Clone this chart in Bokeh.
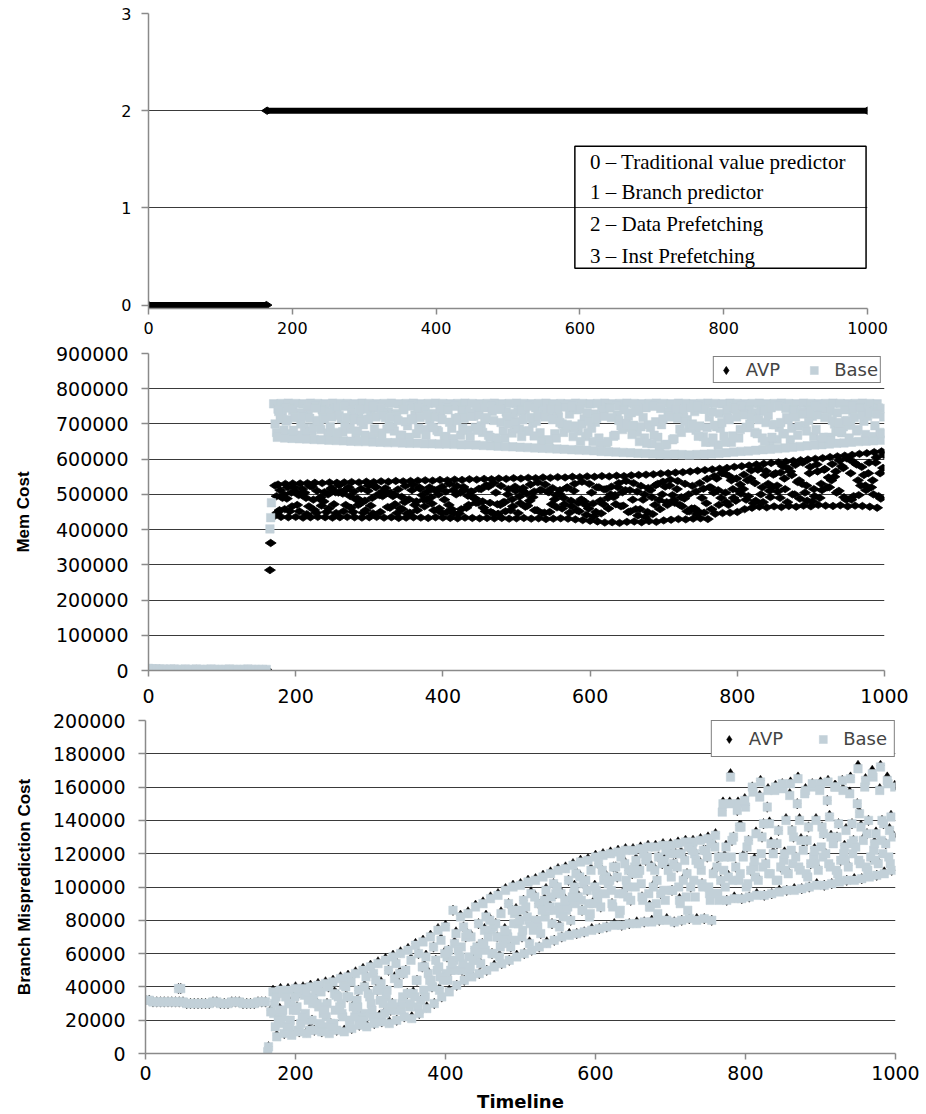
from math import pi

from bokeh.embed import file_html
from bokeh.models import (BoxAnnotation, FixedTicker, Label, Legend, LegendItem,
                          NumeralTickFormatter, Range1d)
from bokeh.plotting import figure
from bokeh.resources import INLINE

# ---------------------------------------------------------------- data
timeline_ticks = [0, 200, 400, 600, 800, 1000]

# Active predictor mode over the timeline
phase_start = [0, 165]
phase_end = [164, 1000]
phase_mode = [0, 2]
mode_ticks = [0, 1, 2, 3]
mode_names = ["0 – Traditional value predictor", "1 – Branch predictor",
              "2 – Data Prefetching", "3 – Inst Prefetching"]

# Warm-up samples (t = 0, 5, ..., 160); all cost values below are in thousands
pre_t = list(range(0, 165, 5))

# ---- Mem Cost ----
mem_ticks = [0, 100000, 200000, 300000, 400000, 500000, 600000, 700000, 800000, 900000]
avp_mem_pre = [5, 4, 4, 4, 3, 3, 3, 4, 3, 3, 3, 3, 3, 4, 3, 3, 3, 3, 3, 3,
               3, 3, 3, 3, 3, 3, 3, 3, 3, 3, 3, 3, 3]
base_mem_pre = [6, 5, 5, 4, 4, 3, 4, 4, 3, 3, 4, 3, 3, 4, 3, 3, 3, 4, 3, 3,
                3, 3, 4, 3, 3, 3, 3, 4, 3, 3, 3, 3, 3]
avp_mem_switch_t = [165, 166]
avp_mem_switch = [285, 362]
base_mem_switch_t = [165, 166, 167]
base_mem_switch = [402, 434, 476]

# After the switch the samples interleave; each list holds every tenth
# sample starting at t = 170 + offset.
avp_mem_low = [437, 436, 435, 436, 434, 435, 436, 435, 434, 435,
               436, 435, 434, 435, 436, 434, 435, 433, 434, 435,
               434, 433, 435, 434, 433, 432, 434, 433, 432, 433,
               432, 433, 431, 432, 433, 431, 432, 430, 431, 432,
               431, 429, 427, 425, 423, 420, 421, 419, 422, 423,
               421, 424, 422, 426, 428, 430, 429, 431, 432, 430,
               445, 447, 448, 450, 458, 462, 465, 463, 466, 464,
               467, 465, 468, 466, 470, 468, 467, 469, 466, 468,
               467, 465, 462]
avp_mem_a = [525, 490, 452, 470, 505, 522, 488, 450, 472, 508,
             520, 486, 448, 468, 500, 518, 495, 460, 445, 470,
             498, 520, 512, 485, 458, 446, 462, 490, 515, 522,
             505, 478, 455, 447, 465, 492, 512, 508, 486, 460,
             448, 455, 480, 505, 520, 515, 492, 466, 450, 458,
             485, 512, 530, 522, 498, 470, 452, 460, 490, 520,
             545, 560, 540, 510, 485, 475, 500, 530, 560, 580,
             565, 535, 505, 480, 490, 520, 550, 580, 600, 585,
             555, 520, 495]
avp_mem_mid = [495, 500, 505, 498, 490, 485, 492, 500, 506, 502,
               495, 488, 482, 490, 498, 505, 500, 493, 486, 480,
               485, 492, 500, 508, 512, 505, 496, 488, 480, 476,
               472, 478, 486, 494, 502, 508, 512, 506, 498, 490,
               482, 476, 470, 474, 482, 490, 498, 506, 512, 508,
               500, 492, 484, 478, 484, 492, 500, 508, 516, 520,
               512, 505, 515, 528, 540, 532, 520, 510, 525, 545,
               555, 540, 525, 515, 530, 548, 565, 575, 560, 540,
               525, 540, 560]
avp_mem_lo2 = [448, 458, 466, 452, 444, 456, 468, 460, 447, 452,
               462, 470, 455, 446, 450, 464, 472, 458, 448, 455,
               466, 474, 460, 449, 446, 458, 470, 476, 462, 450,
               445, 452, 466, 475, 468, 455, 446, 450, 463, 472,
               466, 452, 442, 438, 446, 460, 472, 468, 452, 440,
               436, 444, 458, 470, 476, 466, 452, 444, 448, 458,
               470, 478, 490, 502, 495, 482, 478, 492, 508, 515,
               500, 488, 482, 495, 512, 520, 505, 492, 485, 498,
               512, 500, 488]
avp_mem_high = [528, 530, 531, 531, 532, 533, 532, 534, 533, 534,
                535, 534, 536, 535, 537, 536, 538, 537, 538, 539,
                540, 539, 541, 540, 542, 541, 543, 542, 544, 543,
                545, 544, 546, 545, 547, 546, 548, 547, 549, 548,
                550, 549, 551, 550, 552, 551, 553, 552, 554, 555,
                556, 557, 559, 560, 562, 563, 565, 567, 569, 571,
                573, 575, 578, 580, 582, 585, 587, 589, 591, 593,
                595, 597, 599, 601, 603, 606, 608, 610, 612, 615,
                617, 620, 622]
avp_mem_b = [455, 488, 520, 500, 466, 448, 480, 515, 505, 470,
             450, 475, 510, 522, 495, 462, 447, 478, 512, 520,
             485, 455, 448, 470, 500, 521, 508, 476, 452, 447,
             470, 500, 522, 510, 482, 455, 448, 472, 502, 518,
             510, 486, 460, 450, 472, 500, 520, 512, 485, 458,
             450, 470, 500, 525, 515, 488, 460, 450, 475, 505,
             490, 470, 482, 515, 545, 570, 555, 520, 490, 478,
             500, 530, 560, 585, 570, 540, 510, 485, 495, 525,
             560, 590, 575]
avp_mem_hi2 = [512, 520, 508, 515, 524, 510, 506, 518, 526, 514,
               508, 516, 525, 520, 510, 505, 514, 524, 528, 516,
               508, 512, 522, 530, 524, 514, 508, 516, 526, 532,
               524, 515, 510, 518, 528, 534, 528, 518, 512, 520,
               530, 536, 530, 520, 514, 522, 532, 538, 532, 524,
               518, 526, 536, 542, 538, 530, 524, 532, 544, 552,
               560, 552, 545, 556, 568, 575, 566, 556, 562, 574,
               584, 590, 578, 565, 572, 586, 596, 602, 590, 578,
               590, 605, 612]

base_mem_top = [757, 758, 759, 758, 757, 759, 758, 757, 759, 758,
                758, 757, 759, 758, 757, 758, 759, 757, 758, 759,
                757, 758, 759, 758, 757, 758, 759, 758, 757, 758,
                759, 757, 758, 759, 758, 757, 758, 759, 757, 758,
                757, 759, 758, 757, 758, 759, 757, 758, 759, 758,
                757, 758, 759, 758, 757, 759, 758, 757, 758, 759,
                758, 757, 759, 758, 757, 758, 759, 757, 758, 759,
                758, 757, 759, 758, 757, 758, 759, 758, 757, 758,
                759, 758, 757]
base_mem_c1 = [700, 725, 745, 720, 690, 675, 700, 730, 742, 715,
               685, 672, 698, 728, 744, 718, 690, 668, 695, 725,
               740, 712, 682, 664, 688, 718, 738, 722, 695, 668,
               660, 680, 708, 735, 728, 702, 675, 655, 672, 700,
               728, 740, 715, 688, 660, 645, 665, 695, 722, 738,
               718, 690, 662, 640, 655, 685, 712, 735, 742, 720,
               692, 665, 648, 660, 690, 718, 740, 725, 698, 672,
               655, 668, 695, 722, 742, 728, 700, 675, 660, 680,
               708, 735, 745]
base_mem_lo2 = [676, 682, 672, 668, 680, 690, 684, 674, 670, 678,
                688, 680, 668, 664, 674, 686, 680, 668, 662, 672,
                684, 690, 678, 664, 658, 668, 682, 690, 676, 662,
                654, 660, 674, 686, 680, 666, 652, 648, 660, 676,
                688, 680, 664, 650, 642, 650, 668, 684, 690, 676,
                660, 644, 636, 642, 658, 676, 688, 682, 664, 648,
                640, 648, 666, 684, 690, 676, 660, 650, 656, 672,
                688, 694, 680, 664, 656, 662, 678, 692, 696, 684,
                670, 664, 676]
base_mem_low = [662, 660, 659, 658, 657, 656, 655, 654, 653, 652,
                651, 650, 650, 649, 648, 647, 647, 646, 645, 645,
                644, 644, 643, 643, 642, 641, 641, 640, 639, 638,
                637, 636, 635, 634, 633, 632, 631, 630, 629, 628,
                627, 626, 625, 624, 622, 621, 620, 619, 618, 617,
                616, 615, 614, 613, 614, 613, 612, 613, 614, 615,
                616, 618, 620, 622, 623, 625, 627, 628, 630, 632,
                634, 636, 638, 640, 641, 643, 645, 646, 648, 650,
                651, 652, 654]
base_mem_hi2 = [742, 748, 738, 732, 744, 750, 740, 734, 746, 750,
                738, 732, 742, 750, 744, 734, 730, 740, 750, 746,
                736, 730, 738, 748, 750, 740, 732, 736, 746, 750,
                742, 734, 730, 740, 750, 746, 736, 730, 738, 748,
                750, 742, 732, 728, 738, 748, 750, 740, 732, 736,
                746, 750, 744, 734, 728, 736, 746, 750, 742, 734,
                730, 738, 748, 750, 740, 732, 736, 746, 750, 744,
                734, 730, 740, 750, 746, 736, 732, 740, 750, 748,
                738, 734, 744]
base_mem_c2 = [735, 708, 682, 700, 728, 745, 720, 692, 676, 700,
               730, 742, 712, 686, 670, 695, 725, 742, 715, 688,
               668, 690, 720, 740, 716, 688, 664, 682, 712, 736,
               742, 718, 690, 664, 680, 708, 735, 742, 720, 692,
               664, 650, 675, 705, 732, 745, 725, 698, 670, 650,
               645, 668, 698, 725, 742, 720, 692, 665, 648, 660,
               688, 716, 742, 728, 700, 672, 650, 662, 690, 718,
               740, 735, 710, 684, 662, 655, 680, 708, 735, 745,
               722, 695, 672]
base_mem_h = [715, 712, 718, 722, 716, 710, 714, 720, 724, 718,
              712, 708, 714, 720, 725, 718, 710, 706, 712, 718,
              724, 720, 712, 705, 710, 716, 722, 726, 718, 710,
              704, 700, 706, 712, 718, 724, 720, 712, 704, 698,
              694, 700, 708, 716, 722, 718, 710, 702, 696, 692,
              698, 706, 714, 720, 716, 708, 700, 694, 690, 696,
              704, 712, 720, 726, 720, 712, 704, 698, 704, 712,
              720, 728, 732, 726, 718, 710, 704, 710, 718, 726,
              732, 728, 720]

# ---- Branch Misprediction Cost ----
branch_ticks = [0, 20000, 40000, 60000, 80000, 100000, 120000, 140000,
                160000, 180000, 200000]
avp_branch_pre = [32, 32, 31, 31, 31, 31, 31, 31, 31, 31, 31, 30, 30, 30, 30, 30,
                  30, 30, 31, 31, 30, 30, 30, 31, 31, 31, 30, 30, 30, 30, 31, 31, 31]
base_branch_pre = [32, 32, 31, 31, 31, 31, 31, 31, 31, 31, 31, 30, 30, 30, 30, 30,
                   30, 30, 31, 31, 30, 30, 30, 31, 31, 31, 30, 30, 30, 30, 31, 31, 31]
avp_branch_extra_t = [44, 47, 163, 164, 167]
avp_branch_extra = [39, 39, 1, 4, 26]
base_branch_extra_t = [44, 47, 163, 164, 167]
base_branch_extra = [39, 39, 1, 4, 25]

avp_branch_top = [38, 39, 39, 40, 40, 41, 42, 43, 44, 46,
                  47, 49, 51, 53, 55, 57, 59, 61, 63, 66,
                  68, 71, 75, 77, 86, 83, 85, 89, 91, 94,
                  96, 99, 101, 102, 104, 105, 107, 109, 111, 112,
                  114, 116, 117, 119, 120, 121, 122, 123, 123, 124,
                  125, 125, 126, 126, 127, 128, 128, 129, 130, 132,
                  151, 168, 151, 149, 158, 164, 159, 161, 160, 163,
                  166, 159, 161, 163, 164, 161, 159, 166, 173, 165,
                  167, 173, 163]
avp_branch_mid_a = [31, 22, 17, 28, 36, 20, 16, 30, 37, 24,
                    19, 32, 41, 26, 23, 38, 46, 30, 29, 44,
                    53, 40, 39, 58, 67, 50, 49, 64, 75, 60,
                    59, 72, 85, 70, 67, 80, 93, 78, 77, 90,
                    101, 86, 83, 96, 107, 90, 85, 100, 113, 94,
                    89, 104, 117, 98, 93, 108, 121, 102, 97, 112,
                    119, 128, 137, 124, 117, 130, 139, 126, 121, 134,
                    141, 128, 123, 136, 143, 130, 125, 138, 145, 132,
                    127, 140, 135]
avp_branch_up = [35, 36, 31, 36, 39, 33, 38, 40, 36, 41,
                 44, 38, 47, 48, 43, 50, 55, 48, 57, 60,
                 59, 64, 69, 62, 73, 76, 71, 78, 83, 76,
                 85, 90, 87, 92, 97, 90, 99, 102, 97, 104,
                 109, 102, 111, 114, 107, 112, 119, 110, 117, 120,
                 113, 118, 123, 114, 121, 124, 117, 122, 127, 118,
                 125, 130, 137, 128, 133, 138, 127, 134, 141, 130,
                 129, 136, 141, 132, 131, 138, 135, 128, 137, 140,
                 133, 138, 143]
avp_branch_low = [11, 12, 12, 13, 13, 14, 13, 13, 14, 14,
                  15, 17, 17, 18, 19, 19, 20, 22, 22, 24,
                  28, 30, 34, 38, 41, 44, 47, 48, 50, 53,
                  54, 56, 59, 60, 62, 64, 67, 68, 70, 72,
                  72, 73, 75, 75, 76, 78, 77, 78, 79, 79,
                  80, 80, 81, 79, 80, 81, 81, 81, 80, 93,
                  92, 94, 93, 94, 96, 95, 96, 98, 98, 99,
                  99, 100, 102, 101, 102, 104, 104, 105, 105, 107,
                  107, 109, 110]
avp_branch_mid_b = [21, 34, 27, 18, 33, 38, 25, 18, 35, 40,
                    29, 22, 37, 44, 31, 26, 43, 50, 37, 32,
                    49, 56, 45, 50, 63, 70, 57, 54, 71, 78,
                    67, 64, 79, 88, 75, 72, 87, 96, 83, 80,
                    95, 104, 91, 88, 103, 112, 97, 92, 109, 116,
                    101, 96, 111, 120, 105, 100, 115, 122, 109, 104,
                    107, 112, 119, 110, 105, 114, 121, 112, 109, 118,
                    123, 114, 111, 120, 127, 116, 113, 124, 129, 118,
                    115, 126, 131]
avp_branch_hi = [27, 16, 35, 22, 15, 30, 27, 16, 29, 34,
                 23, 20, 35, 38, 25, 30, 49, 36, 35, 52,
                 45, 50, 61, 54, 59, 72, 63, 66, 81, 70,
                 75, 86, 81, 82, 95, 86, 89, 100, 93, 94,
                 107, 98, 101, 110, 105, 106, 115, 108, 111, 118,
                 111, 114, 121, 112, 117, 122, 115, 118, 125, 146,
                 151, 146, 153, 160, 155, 148, 159, 162, 156, 150,
                 157, 162, 159, 152, 161, 164, 157, 150, 161, 170,
                 159, 166, 161]

base_branch_top = [37, 38, 38, 39, 39, 40, 41, 42, 43, 45,
                   46, 48, 50, 52, 54, 56, 58, 60, 62, 65,
                   67, 70, 74, 76, 86, 82, 84, 88, 90, 93,
                   95, 98, 100, 101, 103, 104, 106, 108, 110, 111,
                   113, 115, 116, 118, 119, 120, 121, 122, 122, 123,
                   124, 124, 125, 125, 126, 127, 127, 128, 129, 131,
                   150, 166, 150, 148, 157, 163, 158, 160, 159, 162,
                   165, 158, 160, 162, 163, 160, 158, 165, 171, 164,
                   166, 172, 162]
base_branch_fill_a = [24, 18, 30, 26, 20, 34, 28, 22, 18, 30,
                      34, 26, 22, 30, 38, 34, 28, 26, 36, 44,
                      38, 44, 52, 48, 56, 64, 58, 56, 66, 74,
                      70, 68, 78, 86, 80, 78, 88, 94, 88, 86,
                      96, 92, 90, 98, 104, 98, 96, 104, 110, 102,
                      96, 90, 98, 106, 100, 94, 104, 110, 100, 96,
                      110, 118, 104, 100, 112, 120, 108, 104, 116, 122,
                      112, 108, 118, 124, 114, 110, 120, 126, 116, 112,
                      122, 128, 118]
base_branch_mid_a = [30, 22, 16, 28, 35, 20, 15, 30, 36, 24,
                     18, 32, 40, 26, 22, 38, 45, 30, 28, 44,
                     52, 40, 38, 58, 66, 50, 48, 64, 74, 60,
                     58, 72, 84, 70, 66, 80, 92, 78, 76, 90,
                     100, 86, 82, 96, 106, 90, 84, 100, 112, 94,
                     88, 104, 116, 98, 92, 108, 120, 102, 96, 112,
                     118, 128, 136, 124, 116, 130, 138, 126, 120, 134,
                     140, 128, 122, 136, 142, 130, 124, 138, 144, 132,
                     126, 140, 134]
base_branch_fill_b = [16, 26, 20, 14, 24, 30, 18, 16, 26, 22,
                      20, 28, 24, 22, 32, 28, 26, 34, 30, 28,
                      34, 40, 46, 44, 50, 54, 52, 60, 62, 60,
                      64, 70, 68, 74, 78, 76, 82, 86, 84, 88,
                      90, 86, 84, 92, 96, 88, 86, 94, 100, 92,
                      88, 84, 92, 98, 90, 86, 94, 100, 92, 96,
                      100, 104, 108, 102, 106, 112, 108, 104, 110, 114,
                      110, 106, 114, 118, 112, 108, 116, 120, 114, 110,
                      116, 120, 114]
base_branch_up = [34, 36, 30, 36, 38, 33, 37, 40, 35, 41,
                  43, 38, 46, 48, 42, 50, 54, 48, 56, 60,
                  58, 64, 68, 62, 72, 76, 70, 78, 82, 76,
                  84, 90, 86, 92, 96, 90, 98, 102, 96, 104,
                  108, 102, 110, 114, 106, 112, 118, 110, 116, 120,
                  112, 118, 122, 114, 120, 124, 116, 122, 126, 118,
                  124, 130, 136, 128, 132, 138, 126, 134, 140, 130,
                  128, 136, 140, 132, 130, 138, 134, 128, 136, 140,
                  132, 138, 142]
base_branch_low = [10, 12, 11, 13, 12, 14, 13, 12, 14, 13,
                   15, 17, 16, 18, 19, 18, 20, 22, 21, 24,
                   27, 30, 34, 37, 41, 44, 46, 48, 50, 52,
                   54, 56, 58, 60, 62, 64, 66, 68, 70, 71,
                   72, 73, 74, 75, 76, 77, 77, 78, 78, 79,
                   79, 80, 80, 79, 80, 81, 80, 81, 80, 92,
                   92, 93, 93, 94, 95, 95, 96, 97, 98, 98,
                   99, 100, 101, 101, 102, 103, 104, 104, 105, 106,
                   107, 108, 110]
base_branch_mid_b = [20, 34, 26, 18, 32, 38, 24, 18, 34, 40,
                     28, 22, 36, 44, 30, 26, 42, 50, 36, 32,
                     48, 56, 44, 50, 62, 70, 56, 54, 70, 78,
                     66, 64, 78, 88, 74, 72, 86, 96, 82, 80,
                     94, 104, 90, 88, 102, 112, 96, 92, 108, 116,
                     100, 96, 110, 120, 104, 100, 114, 122, 108, 104,
                     106, 112, 118, 110, 104, 114, 120, 112, 108, 118,
                     122, 114, 110, 120, 126, 116, 112, 124, 128, 118,
                     114, 126, 130]
base_branch_hi = [26, 16, 34, 22, 14, 30, 26, 16, 28, 34,
                  22, 20, 34, 38, 24, 30, 48, 36, 34, 52,
                  44, 50, 60, 54, 58, 72, 62, 66, 80, 70,
                  74, 86, 80, 82, 94, 86, 88, 100, 92, 94,
                  106, 98, 100, 110, 104, 106, 114, 108, 110, 118,
                  110, 114, 120, 112, 116, 122, 114, 118, 124, 145,
                  150, 146, 152, 160, 154, 148, 158, 162, 155, 150,
                  156, 162, 158, 152, 160, 164, 156, 150, 160, 168,
                  158, 164, 160]

# ---------------------------------------------------------------- helpers
BLACK = "#000000"
GREY = "#c2d0d8"
GRID = "#3a3a3a"
AXIS = "#8a8a8a"
SANS = "DejaVu Sans"
BOLD_SANS = "Liberation Sans"


def sample_times(offset, n):
    return [170 + offset + 10 * i for i in range(n)]


def collect(pre_vals, extra_t, extra_vals, traces):
    xs = list(pre_t) + list(extra_t)
    ys = list(pre_vals) + list(extra_vals)
    for offset, vals in traces:
        xs += sample_times(offset, len(vals))
        ys += list(vals)
    return xs, [v * 1000 for v in ys]


def make_fig(height, y_range, left, right, top, bottom, tick_px):
    p = figure(width=926, height=height, output_backend="svg", toolbar_location=None,
               x_range=Range1d(0, 1000), y_range=y_range,
               min_border_left=left, min_border_right=right,
               min_border_top=top, min_border_bottom=bottom)
    p.outline_line_color = None
    p.background_fill_color = "white"
    p.border_fill_color = "white"
    p.xgrid.visible = False
    p.ygrid.grid_line_color = GRID
    p.ygrid.grid_line_width = 1
    for ax in (p.xaxis[0], p.yaxis[0]):
        ax.axis_line_color = AXIS
        ax.axis_line_width = 1.5
        ax.major_tick_line_color = AXIS
        ax.major_tick_line_width = 1.5
        ax.major_tick_in = 0
        ax.minor_tick_line_color = None
        ax.major_label_text_font = SANS
        ax.major_label_text_font_size = tick_px
        ax.major_label_text_color = "black"
        ax.axis_label_text_color = "black"
    p.xaxis.major_tick_out = 6
    p.yaxis.major_tick_out = 7
    p.xaxis.ticker = FixedTicker(ticks=timeline_ticks)
    return p


def add_key_legend(p, avp_r, base_r, padding, margin, spacing):
    legend = Legend(items=[LegendItem(label="AVP", renderers=[avp_r]),
                           LegendItem(label="Base", renderers=[base_r])],
                    location="top_right", orientation="horizontal",
                    margin=margin, padding=padding, spacing=spacing,
                    glyph_width=20, glyph_height=20, label_standoff=10,
                    label_text_font=SANS, label_text_font_size="18px",
                    border_line_color="black", border_line_width=1,
                    background_fill_color="white", background_fill_alpha=1)
    p.add_layout(legend)


# ---------------------------------------------------------------- mode panel
p1 = make_fig(337, Range1d(-0.035, 3), 148, 59, 13, 29, "16px")
p1.yaxis.ticker = FixedTicker(ticks=mode_ticks)
p1.ygrid.ticker = FixedTicker(ticks=mode_ticks[1:])
p1.xaxis.major_label_standoff = 7
p1.yaxis.major_label_standoff = 10
p1.segment(x0=phase_start, y0=phase_mode, x1=phase_end, y1=phase_mode,
           line_width=6, line_color=BLACK)
p1.scatter(x=phase_start + phase_end, y=phase_mode + phase_mode, marker="diamond",
           size=11, angle=pi / 2, fill_color=BLACK, line_color=BLACK)

p1.add_layout(BoxAnnotation(left=593, right=998, bottom=0.38, top=1.634,
                            fill_alpha=0, line_color="black", line_alpha=1,
                            line_width=1.5))
for name, ypos in zip(mode_names, [1.472, 1.161, 0.832, 0.507]):
    p1.add_layout(Label(x=614, y=ypos, text=name, text_font="Liberation Serif",
                        text_font_size="21px", text_baseline="middle",
                        text_align="left", text_color="black"))

# ---------------------------------------------------------------- mem cost panel
p2 = make_fig(368, Range1d(0, 900000), 148, 42, 16, 33, "19px")
p2.yaxis.ticker = FixedTicker(ticks=mem_ticks)
p2.ygrid.ticker = FixedTicker(ticks=mem_ticks)
p2.yaxis.formatter = NumeralTickFormatter(format="0")
p2.yaxis.major_label_standoff = 13
p2.xaxis.major_label_standoff = 12
p2.yaxis.axis_label = "Mem Cost"
p2.yaxis.axis_label_text_font = BOLD_SANS
p2.yaxis.axis_label_text_font_style = "bold"
p2.yaxis.axis_label_text_font_size = "17px"
p2.yaxis.axis_label_standoff = 20

mx, my = collect(avp_mem_pre, avp_mem_switch_t, avp_mem_switch,
                 [(0, avp_mem_low), (2, avp_mem_a), (4, avp_mem_mid), (5, avp_mem_lo2),
                  (6, avp_mem_high), (8, avp_mem_b), (9, avp_mem_hi2)])
avp_mem_r = p2.scatter(x=mx, y=my, marker="diamond", size=11, angle=pi / 2,
                       fill_color=BLACK, line_color=BLACK, line_width=0.8)
bx, by = collect(base_mem_pre, base_mem_switch_t, base_mem_switch,
                 [(0, base_mem_top), (2, base_mem_c1), (4, base_mem_lo2), (5, base_mem_low),
                  (6, base_mem_hi2), (7, base_mem_c2), (9, base_mem_h)])
base_mem_r = p2.scatter(x=bx, y=by, marker="square", size=8.5,
                        fill_color=GREY, line_color=GREY, line_width=0.5)
add_key_legend(p2, avp_mem_r, base_mem_r, padding=2, margin=3, spacing=24)

# ---------------------------------------------------------------- branch panel
p3 = make_fig(409, Range1d(0, 200000), 145, 31, 15, 61, "19px")
p3.yaxis.ticker = FixedTicker(ticks=branch_ticks)
p3.ygrid.ticker = FixedTicker(ticks=branch_ticks)
p3.yaxis.formatter = NumeralTickFormatter(format="0")
p3.yaxis.major_label_standoff = 13
p3.xaxis.major_label_standoff = 6
p3.yaxis.axis_label = "Branch Misprediction Cost"
p3.yaxis.axis_label_text_font = BOLD_SANS
p3.yaxis.axis_label_text_font_style = "bold"
p3.yaxis.axis_label_text_font_size = "17px"
p3.yaxis.axis_label_standoff = 16
p3.xaxis.axis_label = "Timeline"
p3.xaxis.axis_label_text_font = SANS
p3.xaxis.axis_label_text_font_style = "bold"
p3.xaxis.axis_label_text_font_size = "18px"
p3.xaxis.axis_label_standoff = 8

ax_, ay_ = collect(avp_branch_pre, avp_branch_extra_t, avp_branch_extra,
                   [(0, avp_branch_top), (2, avp_branch_mid_a), (4, avp_branch_up),
                    (5, avp_branch_low), (7, avp_branch_mid_b), (9, avp_branch_hi)])
avp_branch_r = p3.scatter(x=ax_, y=ay_, marker="diamond", size=10.5,
                          fill_color=BLACK, line_color=BLACK, line_width=0.5)
bx3, by3 = collect(base_branch_pre, base_branch_extra_t, base_branch_extra,
                   [(0, base_branch_top), (1, base_branch_fill_a), (2, base_branch_mid_a),
                    (3, base_branch_fill_b), (4, base_branch_up), (5, base_branch_low),
                    (7, base_branch_mid_b), (9, base_branch_hi)])
base_branch_r = p3.scatter(x=bx3, y=by3, marker="square", size=8.5,
                           fill_color=GREY, line_color=GREY, line_width=0.5)
add_key_legend(p3, avp_branch_r, base_branch_r, padding=7, margin=0, spacing=30)

# The three panels keep their own frame geometry, so they are written as
# separate roots stacked down the page.
open("out.html", "w").write(file_html([p1, p2, p3], INLINE))
